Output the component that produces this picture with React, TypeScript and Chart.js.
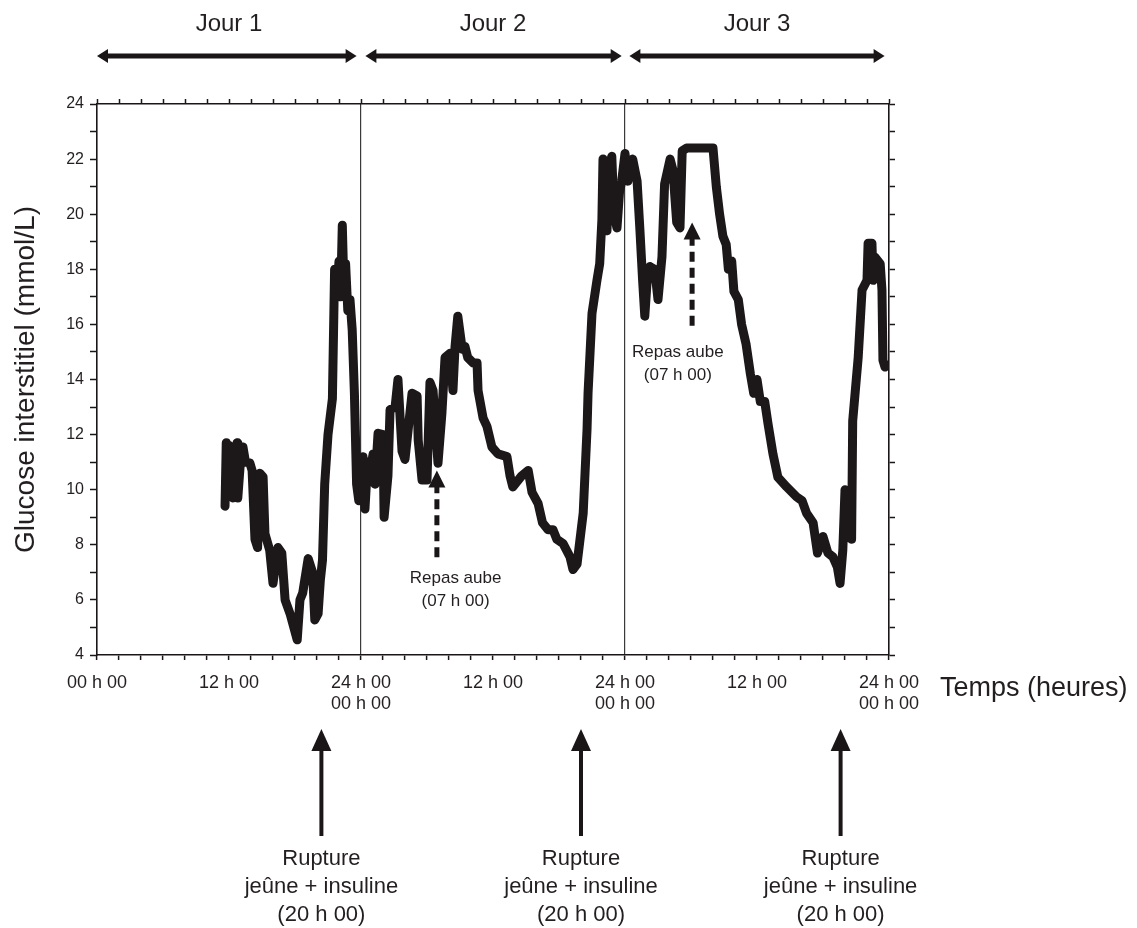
import React, { useEffect, useRef } from 'react';
import { Chart, registerables } from 'chart.js';

Chart.register(...registerables);

const FONT = '"Liberation Sans", Arial, Helvetica, sans-serif';
const INK = '#231f20';

// Time in hours since day 1 00 h 00
const hours = [
  11.64, 11.75, 11.9, 12.0, 12.2, 12.36, 12.5, 12.73, 12.8, 13.0, 13.27, 13.5, 13.9, 14.1, 14.36, 14.6, 14.8, 15.1,
  15.27, 15.7, 16.0, 16.45, 16.8, 17.1, 17.55, 18.2, 18.45, 18.7, 19.2, 19.6, 19.8, 20.1, 20.3, 20.5, 20.7, 21.0,
  21.4, 21.6, 21.8, 22.0, 22.15, 22.3, 22.45, 22.6, 22.8, 23.0, 23.2, 23.4, 23.6, 23.8, 24.0, 24.18, 24.36, 24.6,
  24.8, 25.1, 25.27, 25.55, 26.0, 26.1, 26.45, 26.64, 27.1, 27.36, 27.73, 28.0, 28.64, 29.1, 29.2, 29.55, 30.0,
  30.27, 30.55, 31.0, 31.36, 31.64, 32.1, 32.36, 32.55, 32.8, 33.2, 33.45, 33.7, 34.2, 34.55, 34.64, 35.1, 35.45,
  35.9, 36.45, 37.27, 37.55, 37.8, 38.6, 39.2, 39.55, 40.1, 40.5, 41.0, 41.45, 41.8, 42.36, 43.0, 43.27, 43.64,
  44.2, 44.55, 44.64, 45.0, 45.45, 45.7, 45.9, 46.0, 46.2, 46.36, 46.6, 46.8, 47.0, 47.27, 47.5, 47.7, 48.0, 48.27,
  48.7, 49.1, 49.36, 49.6, 49.8, 50.0, 50.27, 50.7, 51.0, 51.36, 51.6, 52.1, 52.36, 52.7, 53.0, 53.2, 53.6, 55.0,
  56.0, 56.3, 56.6, 56.9, 57.2, 57.4, 57.7, 57.9, 58.3, 58.6, 59.0, 59.4, 59.7, 60.0, 60.3, 60.7, 61.0, 61.45,
  61.9, 62.7, 63.6, 64.1, 64.5, 65.1, 65.5, 66.0, 66.45, 66.9, 67.3, 67.55, 67.8, 68.0, 68.27, 68.6, 68.7, 69.2,
  69.55, 70.0, 70.1, 70.45, 70.55, 70.7, 71.2, 71.36, 71.45, 71.64,
];

// Interstitial glucose (mmol/L)
const glucose = [
  9.4, 11.7, 10.6, 11.6, 10.0, 9.7, 11.0, 11.7, 9.7, 10.8, 11.55, 11.0, 10.97, 10.7, 8.2, 7.9, 10.6, 10.46,
  8.4, 7.8, 6.6, 7.9, 7.7, 6.0, 5.5, 4.55, 6.0, 6.25, 7.5, 7.0, 5.27, 5.5, 6.7, 7.45, 10.2, 12.0,
  13.3, 18.0, 17.2, 18.3, 17.0, 19.6, 17.3, 18.2, 16.5, 16.9, 15.8, 13.5, 10.2, 9.6, 10.4, 11.2, 9.3, 11.0,
  10.6, 11.3, 10.2, 12.05, 12.0, 9.0, 10.5, 12.9, 13.0, 14.0, 11.4, 11.1, 13.5, 13.4, 11.8, 10.35, 10.35,
  13.9, 13.6, 10.96, 12.8, 14.8, 14.95, 13.6, 15.2, 16.3, 15.1, 15.2, 14.8, 14.6, 14.6, 13.6, 12.6, 12.3,
  11.55, 11.3, 11.2, 10.5, 10.1, 10.5, 10.7, 9.9, 9.5, 8.8, 8.55, 8.55, 8.2, 8.05, 7.56, 7.1, 7.3,
  9.15, 12.2, 13.5, 16.4, 17.6, 18.2, 19.8, 22.0, 19.6, 19.4, 21.8, 22.1, 20.0, 19.5, 20.8, 21.2, 22.2, 21.2,
  22.0, 21.2, 19.4, 17.6, 16.3, 17.5, 18.1, 18.0, 16.9, 18.45, 21.1, 22.0, 21.6, 19.7, 19.5, 22.3, 22.4, 22.4,
  22.4, 21.0, 20.0, 19.2, 18.9, 18.0, 18.3, 17.2, 16.9, 16.0, 15.3, 14.2, 13.5, 14.0, 13.2, 13.2, 12.4, 11.3,
  10.45, 10.1, 9.74, 9.6, 9.15, 8.8, 7.7, 8.3, 7.7, 7.56, 7.2, 6.6, 7.8, 10.0, 9.9, 8.2, 12.5, 14.8,
  17.25, 17.6, 18.95, 18.95, 17.6, 18.45, 18.2, 17.25, 14.7, 14.45,
];

// Axis tick labels
const majorTickHours = [0, 12, 24, 36, 48, 60, 72];
const majorTickLabels = [
  ['00 h 00'],
  ['12 h 00'],
  ['24 h 00', '00 h 00'],
  ['12 h 00'],
  ['24 h 00', '00 h 00'],
  ['12 h 00'],
  ['24 h 00', '00 h 00'],
];
const yLabelValues = [4, 6, 8, 10, 12, 14, 16, 18, 20, 22, 24];
const dayBoundaries = [24, 48];

// Annotations
const dayLabels = ['Jour 1', 'Jour 2', 'Jour 3'];
const dayCenters = [12, 36, 60];
const dayStarts = [0, 24.4, 48.4];
const dayEnds = [23.6, 47.7, 71.6];
const ruptureHours = [20.4, 44.0, 67.6];
const ruptureLines = ['Rupture', 'jeûne + insuline', '(20 h 00)'];
const mealHours = [30.9, 54.1];
const mealTipValues = [10.7, 19.7];
const mealBaseValues = [7.55, 15.95];
const mealTextHours = [32.6, 52.8];
const mealTextValues = [6.8, 15.0];
const mealLines = ['Repas aube', '(07 h 00)'];
const xAxisTitle = 'Temps (heures)';
const yAxisTitle = 'Glucose interstitiel (mmol/L)';

function head(ctx: CanvasRenderingContext2D, x: number, y: number, dx: number, dy: number, len: number, half: number) {
  const bx = x - dx * len;
  const by = y - dy * len;
  const px = -dy;
  const py = dx;
  ctx.beginPath();
  ctx.moveTo(x, y);
  ctx.lineTo(bx + px * half, by + py * half);
  ctx.lineTo(bx - px * half, by - py * half);
  ctx.closePath();
  ctx.fill();
}

const annotationPlugin = {
  id: 'annotations',
  afterDraw(chart: any) {
    const { ctx, scales } = chart;
    const x = scales.x;
    const y = scales.y;
    ctx.save();
    ctx.fillStyle = INK;
    ctx.strokeStyle = '#1a1617';

    ctx.textAlign = 'center';
    ctx.textBaseline = 'middle';
    ctx.font = `24px ${FONT}`;
    dayLabels.forEach((t, i) => {
      ctx.fillText(t, x.getPixelForValue(dayCenters[i]), 24);
      const x0 = x.getPixelForValue(dayStarts[i]);
      const x1 = x.getPixelForValue(dayEnds[i]);
      const yy = 56;
      ctx.fillStyle = '#1a1617';
      ctx.lineWidth = 5;
      ctx.beginPath();
      ctx.moveTo(x0 + 8, yy);
      ctx.lineTo(x1 - 8, yy);
      ctx.stroke();
      head(ctx, x0, yy, -1, 0, 11, 7);
      head(ctx, x1, yy, 1, 0, 11, 7);
      ctx.fillStyle = INK;
    });

    ruptureHours.forEach((h) => {
      const px = x.getPixelForValue(h);
      ctx.fillStyle = '#1a1617';
      ctx.lineWidth = 4;
      ctx.beginPath();
      ctx.moveTo(px, 836);
      ctx.lineTo(px, 748);
      ctx.stroke();
      head(ctx, px, 729, 0, -1, 22, 10);
      ctx.fillStyle = INK;
      ctx.font = `22px ${FONT}`;
      ruptureLines.forEach((line, k) => ctx.fillText(line, px, 859 + k * 28));
    });

    mealHours.forEach((h, i) => {
      const px = x.getPixelForValue(h);
      const tip = y.getPixelForValue(mealTipValues[i]);
      const base = y.getPixelForValue(mealBaseValues[i]);
      ctx.fillStyle = '#1a1617';
      ctx.lineWidth = 5;
      ctx.setLineDash([10, 6]);
      ctx.beginPath();
      ctx.moveTo(px, base);
      ctx.lineTo(px, tip + 16);
      ctx.stroke();
      ctx.setLineDash([]);
      head(ctx, px, tip, 0, -1, 17, 8.5);
      ctx.fillStyle = INK;
      ctx.font = `17px ${FONT}`;
      const tx = x.getPixelForValue(mealTextHours[i]);
      const ty = y.getPixelForValue(mealTextValues[i]);
      mealLines.forEach((line, k) => ctx.fillText(line, tx, ty + k * 23));
    });

    ctx.textAlign = 'left';
    ctx.font = `27px ${FONT}`;
    ctx.fillText(xAxisTitle, 940, 689);
    ctx.restore();
  },
};

export default function App() {
  const ref = useRef<HTMLCanvasElement | null>(null);

  useEffect(() => {
    if (!ref.current) return;
    const tickCol = '#1a1617';
    const chart = new Chart(ref.current, {
      type: 'line',
      data: {
        datasets: [
          {
            data: hours.map((h, i) => ({ x: h, y: glucose[i] })),
            borderColor: '#1c1819',
            borderWidth: 9,
            pointRadius: 0,
            tension: 0,
            borderJoinStyle: 'round',
            borderCapStyle: 'round',
            fill: false,
          },
        ],
      },
      options: {
        responsive: false,
        animation: false,
        events: [],
        layout: { padding: { left: 0, right: 242, top: 98, bottom: 193 } },
        plugins: { legend: { display: false }, tooltip: { enabled: false } },
        scales: {
          x: {
            type: 'linear',
            position: 'bottom',
            min: 0,
            max: 72,
            ticks: {
              stepSize: 2,
              autoSkip: false,
              maxRotation: 0,
              minRotation: 0,
              padding: 12,
              color: INK,
              font: { family: FONT, size: 18 },
              callback: (v: any) => {
                const idx = majorTickHours.indexOf(Number(v));
                return idx >= 0 ? majorTickLabels[idx] : '';
              },
            },
            grid: {
              color: (c: any) => (c.tick && dayBoundaries.includes(c.tick.value) ? '#3a3a3a' : 'rgba(0,0,0,0)'),
              lineWidth: 1.2,
              drawTicks: true,
              tickLength: 5,
              tickColor: tickCol,
              tickWidth: 1.5,
            },
            border: { display: true, color: tickCol, width: 1.6 },
            afterFit: (s: any) => {
              s.height = 80;
            },
          },
          x2: {
            type: 'linear',
            position: 'top',
            min: 0,
            max: 72,
            ticks: { stepSize: 2, display: false },
            grid: { drawOnChartArea: false, drawTicks: true, tickLength: 5, tickColor: tickCol, tickWidth: 1.5 },
            border: { display: true, color: tickCol, width: 1.6 },
            afterFit: (s: any) => {
              s.height = 6;
            },
          },
          y: {
            type: 'linear',
            position: 'left',
            min: 4,
            max: 24,
            ticks: {
              stepSize: 1,
              padding: 6,
              color: INK,
              font: { family: FONT, size: 16 },
              callback: (v: any) => (yLabelValues.includes(Number(v)) ? String(v) : ''),
            },
            grid: { drawOnChartArea: false, drawTicks: true, tickLength: 7, tickColor: tickCol, tickWidth: 1.5 },
            border: { display: true, color: tickCol, width: 1.6 },
            title: {
              display: true,
              text: yAxisTitle,
              color: INK,
              font: { family: FONT, size: 28 },
              padding: { top: 9, bottom: 0 },
            },
            afterFit: (s: any) => {
              s.width = 97;
            },
          },
          y2: {
            type: 'linear',
            position: 'right',
            min: 4,
            max: 24,
            ticks: { stepSize: 1, display: false },
            grid: { drawOnChartArea: false, drawTicks: true, tickLength: 6, tickColor: tickCol, tickWidth: 1.5 },
            border: { display: true, color: tickCol, width: 1.6 },
            afterFit: (s: any) => {
              s.width = 6;
            },
          },
        },
      },
      plugins: [annotationPlugin],
    } as any);
    return () => chart.destroy();
  }, []);

  return (
    <div style={{ position: 'absolute', left: 0, top: 0, width: 1137, height: 928, background: '#fff' }}>
      <canvas ref={ref} width={1137} height={928} style={{ display: 'block', width: 1137, height: 928 }} />
    </div>
  );
}
